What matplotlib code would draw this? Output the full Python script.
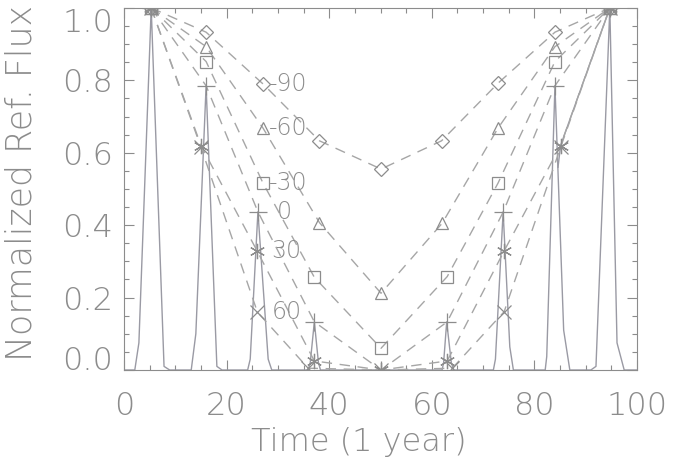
import matplotlib
matplotlib.use("Agg")
import matplotlib.pyplot as plt
from matplotlib.ticker import MultipleLocator

# ---- data ----
t_m90 = [5.3, 16.0, 27.1, 38.1, 50.1, 61.9, 72.9, 84.0, 94.7]
f_m90 = [1.0, 0.933, 0.79, 0.633, 0.555, 0.633, 0.792, 0.933, 1.0]
t_m60 = [5.3, 16.0, 27.1, 38.1, 50.1, 62.0, 72.9, 84.0, 94.7]
f_m60 = [1.0, 0.893, 0.668, 0.407, 0.212, 0.405, 0.668, 0.893, 1.0]
t_m30 = [5.3, 16.0, 27.1, 37.1, 50.1, 63.0, 72.9, 84.0, 94.7]
f_m30 = [1.0, 0.852, 0.516, 0.256, 0.06, 0.258, 0.516, 0.852, 1.0]
t_0 = [5.3, 16.0, 26.1, 37.1, 50.1, 63.0, 73.9, 84.0, 94.7]
f_0 = [1.0, 0.785, 0.437, 0.133, 0.0, 0.133, 0.436, 0.785, 1.0]
t_30 = [5.3, 15.0, 25.9, 37.1, 50.1, 63.0, 74.1, 85.1, 94.7]
f_30 = [1.0, 0.62, 0.33, 0.025, 0.0, 0.025, 0.329, 0.62, 1.0]
t_60 = [5.3, 15.0, 26.0, 35.9, 50.1, 64.0, 74.1, 85.1, 94.7]
f_60 = [1.0, 0.615, 0.16, 0.005, 0.0, 0.005, 0.161, 0.615, 1.0]

latitudes = ['-90', '-60', '-30', '0', '30', '60']

# solid light curve (peaks)
solid_t = [0.0, 2.1, 2.9, 5.3, 7.8, 8.9,
           13.1, 14.0, 16.0, 18.1, 19.1,
           24.1, 24.6, 26.1, 28.1, 28.8,
           35.9, 36.3, 37.1, 37.9, 38.3,
           62.0, 62.3, 62.9, 63.8, 64.3,
           72.0, 72.4, 73.9, 75.2, 75.9,
           82.1, 82.4, 84.0, 85.7, 86.9,
           91.0, 92.0, 94.7, 96.1, 97.5, 100.0]
solid_f = [0.0, 0.0, 0.075, 1.0, 0.01, 0.0,
           0.0, 0.10, 0.785, 0.01, 0.0,
           0.0, 0.03, 0.437, 0.03, 0.0,
           0.0, 0.02, 0.133, 0.02, 0.0,
           0.0, 0.02, 0.133, 0.02, 0.0,
           0.0, 0.03, 0.437, 0.064, 0.0,
           0.0, 0.037, 0.785, 0.11, 0.0,
           0.0, 0.01, 1.0, 0.075, 0.0, 0.0]
extra_t = [94.7, 85.1, 84.6]
extra_f = [1.0, 0.62, 0.56]

GREY = '#8c8c8c'
LINEGREY = '#9a9aa4'
DASHGREY = '#a6a6a6'

plt.rcParams['font.family'] = ['DejaVu Sans']
fig = plt.figure(figsize=(6.94, 4.66), dpi=100)
ax = fig.add_axes([0.1787, 0.206, 0.7392, 0.777])

ax.plot(solid_t, solid_f, '-', color=LINEGREY, lw=1.0, zorder=2)
ax.plot(extra_t, extra_f, '-', color=LINEGREY, lw=1.0, zorder=2)

series = [
    (t_m90, f_m90, 'D', 7),
    (t_m60, f_m60, '^', 9),
    (t_m30, f_m30, 's', 9),
    (t_0, f_0, '+', 13),
    (t_30, f_30, (6, 2, 0), 11),
    (t_60, f_60, 'x', 10),
]
label_dx = [4.5, 4.5, 4.5, 14.0, 10.5, 10.5]
for (t, f, m, ms), lab, dx in zip(series, latitudes, label_dx):
    ax.plot(t, f, ls=(0, (7.5, 5.5)), color=DASHGREY, lw=1.0, zorder=3)
    ax.plot(t, f, ls='none', marker=m, ms=ms, mfc='none', mec=GREY,
            mew=0.9, zorder=4)
    ax.annotate(lab, (t[2], f[2]), xytext=(dx, 0), textcoords='offset points',
                ha='left', va='center', fontsize=17, color=GREY,
                fontweight='light')

ax.set_xlim(0, 100)
ax.set_ylim(0, 1.0)
ax.xaxis.set_major_locator(MultipleLocator(20))
ax.xaxis.set_minor_locator(MultipleLocator(5))
ax.yaxis.set_minor_locator(MultipleLocator(0.05))
ax.set_yticks([0.0, 0.2, 0.4, 0.6, 0.8, 1.0])
ax.set_yticklabels(['0.0', '0.2', '0.4', '0.6', '0.8', '1.0'])
ax.tick_params(which='both', direction='in', top=True, right=True,
               color=GREY, width=0.8, labelcolor=GREY, labelsize=23)
ax.tick_params(which='major', length=7)
ax.tick_params(which='minor', length=3.6)
ax.tick_params(axis='x', pad=15)
ax.tick_params(axis='y', pad=8)
for lbl in ax.get_yticklabels() + ax.get_xticklabels():
    lbl.set_fontweight('light')
ylabs = ax.get_yticklabels()
ylabs[0].set_va('baseline')
ylabs[-1].set_va('top')
for sp in ax.spines.values():
    sp.set_color(GREY)
    sp.set_linewidth(0.8)

ax.set_xlabel('Time (1 year)', fontsize=23, color=GREY, fontweight='light',
              labelpad=4)
ax.xaxis.set_label_coords(0.458, -0.2, transform=ax.transAxes)
ax.xaxis.label.set_va('center')
ax.set_ylabel('Normalized Ref. Flux', fontsize=25, color=GREY,
              fontweight='light')
ax.yaxis.set_label_coords(22 / 694, 1 - 183 / 466, transform=fig.transFigure)
ax.yaxis.label.set_va('center')

fig.savefig('out.png', dpi=100)
